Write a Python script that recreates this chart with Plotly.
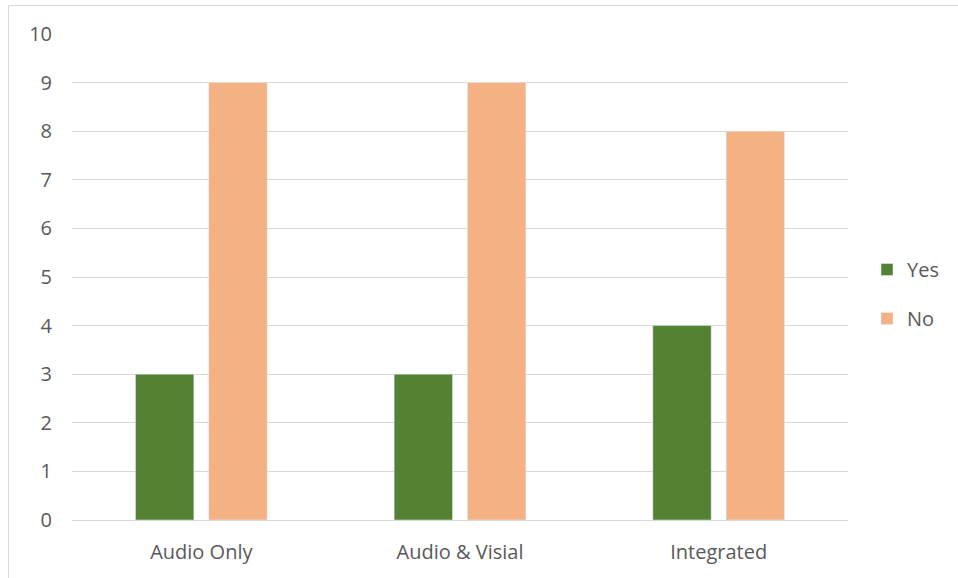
import plotly.graph_objects as go

categories = ["Audio Only", "Audio & Visial", "Integrated"]
yes_values = [3, 3, 4]
no_values = [9, 9, 8]
y_ticks = list(range(0, 11))

fig = go.Figure()
fig.add_trace(go.Bar(x=categories, y=yes_values, name="Yes", marker_color="#548235",
                     legendgroup="a"))
fig.add_trace(go.Bar(x=categories, y=no_values, name="No", marker_color="#F4B183",
                     legendgroup="b"))

L, R, T, B = 72, 110, 34, 58
W, H = 958, 578
pw, ph = W - L - R, H - T - B

def px_x(p):
    return (p - L) / pw

def px_y(p):
    return (H - B - p) / ph

FONT = "Open Sans, Liberation Sans, Arial"
fig.update_layout(
    width=W, height=H,
    margin=dict(l=L, r=R, t=T, b=B, pad=0),
    paper_bgcolor="white", plot_bgcolor="white",
    barmode="group", bargap=0.433, bargroupgap=0.204,
    font=dict(family=FONT, size=20, color="#595959"),
    showlegend=True,
    legend=dict(x=px_x(867), y=px_y(294), xanchor="left", yanchor="middle",
                tracegroupgap=20, font=dict(family=FONT, size=20, color="#595959"),
                itemwidth=30, bgcolor="rgba(0,0,0,0)"),
    xaxis=dict(showgrid=False, showline=True, linecolor="#d9d9d9", linewidth=1,
               ticks="", ticklabelstandoff=14, tickfont=dict(family=FONT, size=20, color="#595959")),
    yaxis=dict(range=[0, 10], tickvals=y_ticks, showgrid=True, gridcolor="#d9d9d9",
               gridwidth=1, zeroline=False, showline=False, ticks="",
               ticklabelstandoff=19, tickfont=dict(family=FONT, size=20, color="#595959")),
    shapes=[dict(type="rect", xref="paper", yref="paper",
                 x0=px_x(8.5), x1=px_x(990), y0=px_y(600), y1=px_y(5.5),
                 line=dict(color="#d9d9d9", width=1), layer="below")],
)

fig.write_html("out.html")
